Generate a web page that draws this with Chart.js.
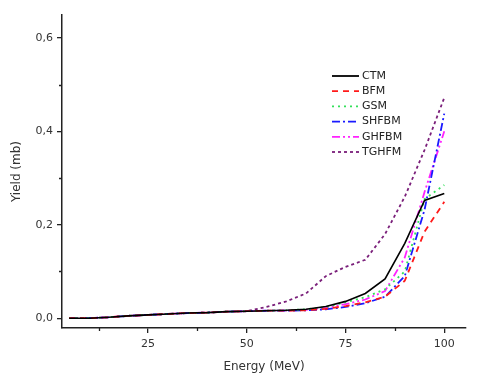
<!DOCTYPE html>
<html>
<head>
<meta charset="utf-8">
<script src="https://cdn.jsdelivr.net/npm/chart.js@4"></script>
<style>
  html, body { margin: 0; padding: 0; background: #fff; }
  #wrap { width: 481px; height: 374px; }
</style>
</head>
<body>
<div id="wrap"><canvas id="yieldChart" width="481" height="374"></canvas></div>
<script>
// Energies (MeV)
const energies = [5, 10, 15, 20, 25, 30, 35, 40, 45, 50, 55, 60, 65, 70, 75, 80, 85, 90, 95, 100];

// Yield (mb) for each model
const ctm   = [0, 0, 0.002, 0.005, 0.007, 0.009, 0.011, 0.012, 0.014, 0.015, 0.016, 0.017, 0.019, 0.025, 0.036, 0.053, 0.084, 0.16, 0.252, 0.267];
const bfm   = [0, 0, 0.002, 0.005, 0.007, 0.009, 0.011, 0.012, 0.014, 0.015, 0.016, 0.016, 0.017, 0.02, 0.026, 0.034, 0.046, 0.08, 0.185, 0.249];
const gsm   = [0, 0, 0.002, 0.005, 0.007, 0.009, 0.011, 0.012, 0.014, 0.015, 0.016, 0.017, 0.019, 0.024, 0.034, 0.045, 0.062, 0.1, 0.255, 0.285];
const shfbm = [0, 0, 0.002, 0.005, 0.007, 0.009, 0.011, 0.012, 0.014, 0.015, 0.016, 0.016, 0.017, 0.019, 0.024, 0.032, 0.046, 0.09, 0.232, 0.438];
const ghfbm = [0, 0, 0.002, 0.005, 0.007, 0.009, 0.011, 0.012, 0.014, 0.015, 0.016, 0.016, 0.018, 0.022, 0.03, 0.04, 0.058, 0.13, 0.27, 0.4];
const tghfm = [0, 0, 0.002, 0.005, 0.007, 0.009, 0.011, 0.012, 0.014, 0.015, 0.024, 0.036, 0.053, 0.09, 0.11, 0.125, 0.18, 0.26, 0.36, 0.472];

const seriesNames = ['CTM', 'BFM', 'GSM', 'SHFBM', 'GHFBM', 'TGHFM'];
const seriesData = [ctm, bfm, gsm, shfbm, ghfbm, tghfm];
const seriesColors = ['#000000', '#ff1a1a', '#33e05a', '#1a1aff', '#ff22ff', '#7a1f7a'];
const seriesDashes = [[], [6, 5], [2, 4], [8, 3, 2, 3], [8, 3, 2, 3, 2, 3], [3, 3]];

// Tick values
const yMajorTicks = [0, 0.2, 0.4, 0.6];
const yMinorTicks = [0.1, 0.3, 0.5];
const xMajorTicks = [25, 50, 75, 100];
const xMinorTicks = [12.5, 37.5, 62.5, 87.5];

const fontFamily = 'Verdana, "DejaVu Sans", sans-serif';

const datasets = seriesNames.map((name, i) => ({
  label: name,
  data: energies.map((e, j) => ({ x: e, y: seriesData[i][j] })),
  borderColor: seriesColors[i],
  backgroundColor: seriesColors[i],
  borderWidth: i === 0 ? 1.6 : 1.8,
  borderDash: seriesDashes[i],
  pointRadius: 0,
  tension: 0
}));

// Draw minor ticks and the in-plot legend
const decorPlugin = {
  id: 'decor',
  afterDraw(chart) {
    const ctx = chart.ctx;
    const xs = chart.scales.x;
    const ys = chart.scales.y;
    const area = chart.chartArea;
    ctx.save();
    ctx.strokeStyle = '#222';
    ctx.lineWidth = 1.3;
    ctx.beginPath();
    yMinorTicks.forEach(v => {
      const y = Math.round(ys.getPixelForValue(v)) + 0.5;
      ctx.moveTo(area.left - 3, y);
      ctx.lineTo(area.left, y);
    });
    xMinorTicks.forEach(v => {
      const x = Math.round(xs.getPixelForValue(v)) + 0.5;
      ctx.moveTo(x, area.bottom);
      ctx.lineTo(x, area.bottom + 3);
    });
    ctx.stroke();

    // legend
    ctx.font = '11px ' + fontFamily;
    ctx.textBaseline = 'middle';
    chart.data.datasets.forEach((ds, i) => {
      const y = 76 + i * 15.2;
      ctx.strokeStyle = ds.borderColor;
      ctx.lineWidth = 1.8;
      ctx.setLineDash(ds.borderDash);
      ctx.beginPath();
      ctx.moveTo(332, y);
      ctx.lineTo(359, y);
      ctx.stroke();
      ctx.setLineDash([]);
      ctx.fillStyle = '#222';
      ctx.fillText(ds.label, 362, y);
    });
    ctx.restore();
  }
};

new Chart(document.getElementById('yieldChart'), {
  type: 'line',
  data: { datasets: datasets },
  options: {
    responsive: false,
    animation: false,
    layout: { padding: { top: 15, right: 15, left: 10, bottom: 0 } },
    plugins: { legend: { display: false }, tooltip: { enabled: false } },
    scales: {
      x: {
        type: 'linear',
        min: 3.2,
        max: 105.5,
        afterBuildTicks: axis => { axis.ticks = xMajorTicks.map(v => ({ value: v })); },
        afterFit: axis => { axis.height = 46; },
        border: { display: true, color: '#222', width: 1.5 },
        grid: { display: true, drawOnChartArea: false, drawTicks: true, tickLength: 5, color: '#222', lineWidth: 1.3 },
        ticks: { color: '#333', font: { family: fontFamily, size: 11 }, padding: 5, maxRotation: 0 },
        title: { display: true, text: 'Energy (MeV)', color: '#333', font: { family: fontFamily, size: 12 }, padding: { top: 3, bottom: 0 } }
      },
      y: {
        type: 'linear',
        min: -0.021,
        max: 0.649,
        afterBuildTicks: axis => { axis.ticks = yMajorTicks.map(v => ({ value: v })); },
        afterFit: axis => { axis.width = 52; },
        border: { display: true, color: '#222', width: 1.5 },
        grid: { display: true, drawOnChartArea: false, drawTicks: true, tickLength: 5, color: '#222', lineWidth: 1.3 },
        ticks: {
          color: '#333',
          font: { family: fontFamily, size: 11 },
          padding: 4,
          callback: v => v.toFixed(1).replace('.', ',')
        },
        title: { display: true, text: 'Yield (mb)', color: '#333', font: { family: fontFamily, size: 12 }, padding: { top: 0, bottom: 6 } }
      }
    }
  },
  plugins: [decorPlugin]
});
</script>
</body>
</html>
